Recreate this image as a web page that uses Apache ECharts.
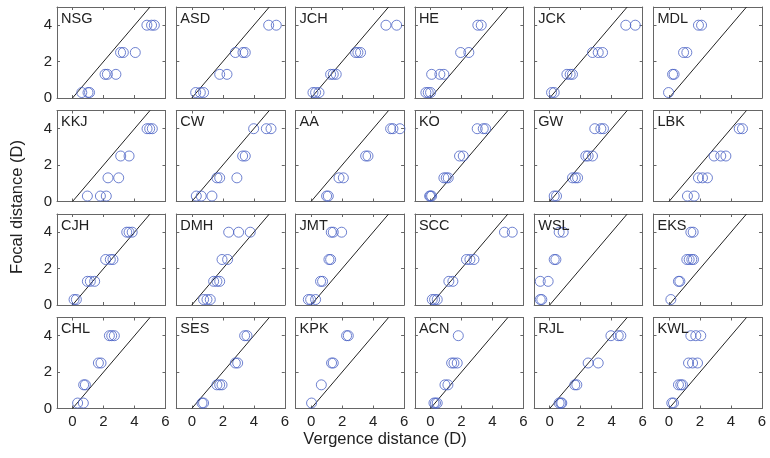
<!DOCTYPE html>
<html>
<head>
<meta charset="utf-8">
<script src="https://cdn.jsdelivr.net/npm/echarts@6/dist/echarts.min.js"></script>
<style>html,body{margin:0;padding:0;background:#fff}#c{width:770px;height:458px}</style>
</head>
<body>
<div id="c"></div>
<script>
// Focal distance levels (D)
const focalLevels = [0.3, 1.3, 2.5, 4.0];
const panelNames = ['NSG','ASD','JCH','HE','JCK','MDL','KKJ','CW','AA','KO','GW','LBK','CJH','DMH','JMT','SCC','WSL','EKS','CHL','SES','KPK','ACN','RJL','KWL'];
// Vergence distances (D) per panel, one list per focal level
const vergNSG = [[0.6,1.0,1.1],[2.1,2.25,2.8],[3.1,3.28,4.05],[4.8,5.1,5.28]];
const vergASD = [[0.25,0.55,0.76],[1.8,2.27],[2.81,3.3,3.45],[4.96,5.45]];
const vergJCH = [[0.12,0.29,0.51],[1.26,1.43,1.62],[2.87,3.02,3.19],[4.83,5.52]];
const vergHE  = [[-0.29,-0.14,0.01],[0.08,0.61,0.87],[1.95,2.48],[3.06,3.28]];
const vergJCK = [[0.12,0.29],[1.11,1.32,1.47],[2.76,3.13,3.41],[4.91,5.52]];
const vergMDL = [[-0.03],[0.23,0.33],[0.94,1.15],[1.9,2.1]];
const vergKKJ = [[0.96,1.8,2.18],[2.29,2.98],[3.11,3.65],[4.81,4.98,5.15]];
const vergCW  = [[0.29,0.61,1.3],[1.62,1.8,2.91],[3.28,3.45],[3.99,4.81,5.11]];
const vergAA  = [[1.0,1.11],[1.8,2.08],[3.52,3.67],[5.13,5.28,5.73]];
const vergKO  = [[-0.05,0.01,0.08],[0.87,1.02,1.15],[1.88,2.12],[3.02,3.41,3.56]];
const vergGW  = [[0.29,0.44],[1.47,1.65,1.8],[2.33,2.48,2.76],[2.91,3.3,3.47]];
const vergLBK = [[1.19,1.62],[1.9,2.16,2.48],[2.91,3.34,3.67],[4.53,4.74]];
const vergCJH = [[0.1,0.25],[0.96,1.15,1.43],[2.14,2.44,2.61],[3.5,3.65,3.85]];
const vergDMH = [[0.76,0.98,1.19],[1.41,1.62,1.8],[1.95,2.31],[2.38,3.02,3.77]];
const vergJMT = [[-0.18,-0.03,0.29],[0.61,0.74],[1.15,1.26],[1.3,1.43,1.97]];
const vergSCC = [[0.12,0.27,0.44],[1.19,1.45],[2.33,2.55,2.81],[4.78,5.28]];
const vergWSL = [[-0.61,-0.51],[-0.61,-0.1],[0.29,0.4],[0.61,0.87]];
const vergEKS = [[0.12],[0.61,0.7],[1.15,1.3,1.47,1.58],[1.41,1.56]];
const vergCHL = [[0.33,0.7],[0.72,0.83],[1.67,1.84],[2.38,2.53,2.7]];
const vergSES = [[0.66,0.76],[1.62,1.8,1.95],[2.81,2.96],[3.41,3.56]];
const vergKPK = [[0.03],[0.66],[1.32,1.43],[2.29,2.4]];
const vergACN = [[0.23,0.33,0.44],[0.94,1.13],[1.37,1.52,1.73],[1.8]];
const vergRJL = [[0.61,0.72,0.78],[1.62,1.75],[2.48,3.13],[3.95,4.42,4.59]];
const vergKWL = [[0.18,0.29],[0.61,0.76,0.87],[1.26,1.52,1.84],[1.41,1.73,2.05]];
const identityLine = [[0,0],[5,5]];
const xTicks = [0,2,4,6];
const yTicks = [0,2,4];

const vergence = [vergNSG,vergASD,vergJCH,vergHE,vergJCK,vergMDL,vergKKJ,vergCW,vergAA,vergKO,vergGW,vergLBK,
  vergCJH,vergDMH,vergJMT,vergSCC,vergWSL,vergEKS,vergCHL,vergSES,vergKPK,vergACN,vergRJL,vergKWL];

const FONT = '"Liberation Sans", Arial, Helvetica, sans-serif';
const colLeft = [57, 176.3, 295.6, 414.9, 534.2, 653.5];
const rowTop = [7, 110.5, 214, 317.5];
const W = 108.5, H = 91;
const boxColor = '#666';

const grids = [], xAxes = [], yAxes = [], series = [], titles = [];
panelNames.forEach((name, i) => {
  const r = Math.floor(i / 6), c = i % 6;
  grids.push({left: colLeft[c], top: rowTop[r], width: W, height: H, containLabel: false});
  const axLine = {show: true, onZero: false, lineStyle: {color: boxColor, width: 1}};
  const tick = {show: true, inside: true, length: 3, lineStyle: {color: boxColor}};
  xAxes.push({type: 'value', gridIndex: i, min: -1, max: 6, position: 'bottom',
    axisLine: axLine, axisTick: Object.assign({customValues: xTicks}, tick),
    axisLabel: {show: r === 3, customValues: xTicks, margin: 6, fontSize: 15, color: '#222', fontFamily: FONT},
    splitLine: {show: false}});
  xAxes.push({type: 'value', gridIndex: i, min: -1, max: 6, position: 'top',
    axisLine: axLine, axisTick: Object.assign({customValues: xTicks}, tick),
    axisLabel: {show: false}, splitLine: {show: false}});
  yAxes.push({type: 'value', gridIndex: i, min: 0, max: 5, position: 'left',
    axisLine: axLine, axisTick: Object.assign({customValues: yTicks}, tick),
    axisLabel: {show: c === 0, customValues: yTicks, margin: 5, fontSize: 15, color: '#222', fontFamily: FONT},
    splitLine: {show: false}});
  yAxes.push({type: 'value', gridIndex: i, min: 0, max: 5, position: 'right',
    axisLine: axLine, axisTick: Object.assign({customValues: yTicks}, tick),
    axisLabel: {show: false}, splitLine: {show: false}});
  series.push({type: 'line', xAxisIndex: 2*i, yAxisIndex: 2*i, data: identityLine,
    symbol: 'none', silent: true, lineStyle: {color: '#222', width: 1}, z: 2});
  const pts = [];
  vergence[i].forEach((lst, k) => lst.forEach(v => pts.push([v, focalLevels[k]])));
  series.push({type: 'scatter', xAxisIndex: 2*i, yAxisIndex: 2*i, data: pts,
    symbol: 'circle', symbolSize: 10,
    itemStyle: {color: 'rgba(0,0,0,0)', borderColor: '#4a62c4', borderWidth: 1}, z: 3});
  titles.push({text: name, left: colLeft[c] + 4, top: rowTop[r] + 4, padding: 0,
    textStyle: {fontSize: 14.5, fontWeight: 'normal', color: '#222', fontFamily: FONT}});
});

const chart = echarts.init(document.getElementById('c'), null, {renderer: 'canvas'});
chart.setOption({
  animation: false,
  title: titles,
  grid: grids,
  xAxis: xAxes,
  yAxis: yAxes,
  series: series,
  graphic: [
    {type: 'text', left: 'center', top: 431, style: {text: 'Vergence distance (D)', fill: '#222', font: '16.5px ' + FONT}},
    {type: 'text', rotation: Math.PI/2, x: 17, y: 207, style: {text: 'Focal distance (D)', fill: '#222', font: '16.5px ' + FONT, align: 'center', verticalAlign: 'middle'}}
  ]
});
</script>
</body>
</html>
